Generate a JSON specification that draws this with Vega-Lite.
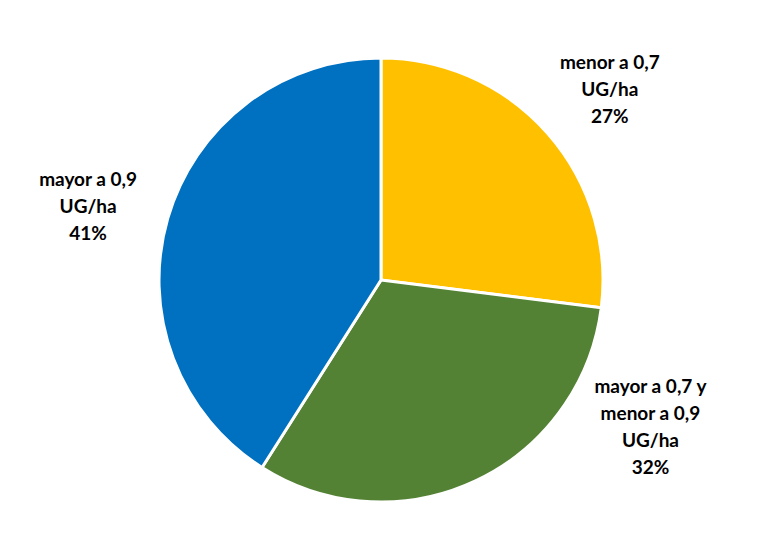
{
  "$schema": "https://vega.github.io/schema/vega-lite/v6.json",
  "width": 762,
  "height": 522,
  "autosize": {"type": "none"},
  "padding": {"top": 19, "left": 0, "right": 3, "bottom": 0},
  "background": "white",
  "view": {"stroke": null},
  "data": {
    "values": [
      {"category": "menor a 0,7 UG/ha", "label": "menor a 0,7\nUG/ha\n27%", "value": 27, "order": 1},
      {"category": "mayor a 0,7 y menor a 0,9 UG/ha", "label": "mayor a 0,7 y\nmenor a 0,9\nUG/ha\n32%", "value": 32, "order": 2},
      {"category": "mayor a 0,9 UG/ha", "label": "mayor a 0,9\nUG/ha\n41%", "value": 41, "order": 3}
    ]
  },
  "transform": [
    {"stack": "value", "groupby": [], "sort": [{"field": "order", "order": "ascending"}], "as": ["v0", "v1"]},
    {"calculate": "(datum.v0 + datum.v1) / 2", "as": "vmid"}
  ],
  "layer": [
    {
      "mark": {"type": "arc", "outerRadius": 222, "stroke": "white", "strokeWidth": 3},
      "encoding": {
        "theta": {"field": "v0", "type": "quantitative", "scale": {"domain": [0, 100]}},
        "theta2": {"field": "v1"},
        "color": {
          "field": "category",
          "type": "nominal",
          "scale": {
            "domain": ["menor a 0,7 UG/ha", "mayor a 0,7 y menor a 0,9 UG/ha", "mayor a 0,9 UG/ha"],
            "range": ["#FFC000", "#548235", "#0070C0"]
          },
          "legend": null
        }
      }
    },
    {
      "transform": [{"filter": "datum.order != 2"}],
      "mark": {"type": "text", "radius": 305, "dy": -15, "font": "Lato", "fontWeight": "bold", "fontSize": 19, "lineHeight": 27, "lineBreak": "\n", "align": "center", "baseline": "middle", "color": "black"},
      "encoding": {
        "theta": {"field": "vmid", "type": "quantitative", "scale": {"domain": [0, 100]}},
        "text": {"field": "label"}
      }
    },
    {
      "transform": [{"filter": "datum.order == 2"}],
      "mark": {"type": "text", "radius": 250, "dx": 163, "dy": -119, "font": "Lato", "fontWeight": "bold", "fontSize": 19, "lineHeight": 27, "lineBreak": "\n", "align": "center", "baseline": "middle", "color": "black"},
      "encoding": {
        "theta": {"field": "vmid", "type": "quantitative", "scale": {"domain": [0, 100]}},
        "text": {"field": "label"}
      }
    }
  ]
}
